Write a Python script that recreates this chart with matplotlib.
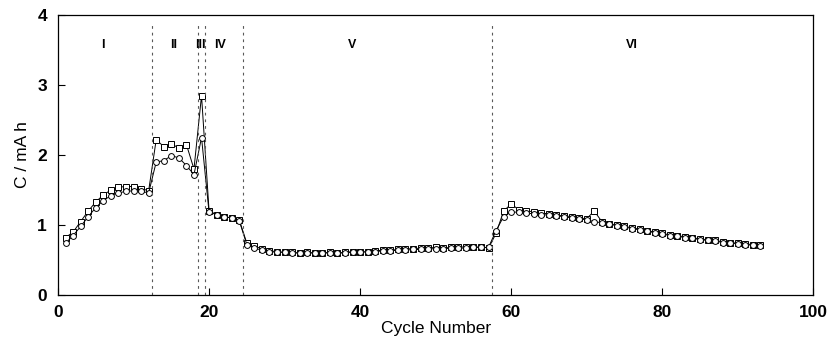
import matplotlib
matplotlib.use("Agg")
import matplotlib.pyplot as plt

plt.rcParams['font.family'] = ['Liberation Sans', 'DejaVu Sans']

cycles = list(range(1, 94))

circles = [0.74, 0.85, 0.98, 1.12, 1.25, 1.35, 1.42, 1.46, 1.48, 1.49, 1.48, 1.46,
           1.90, 1.92, 1.99, 1.96, 1.85, 1.72,
           2.25,
           1.18, 1.15, 1.12, 1.10, 1.06,
           0.72, 0.67, 0.64, 0.62, 0.61, 0.61, 0.60, 0.60, 0.60, 0.60, 0.60, 0.60, 0.60, 0.60,
           0.61, 0.61, 0.62, 0.62, 0.63, 0.63, 0.64, 0.64, 0.65, 0.65, 0.66, 0.66, 0.66, 0.67,
           0.67, 0.67, 0.68, 0.68, 0.68,
           0.92, 1.12, 1.19, 1.18, 1.17, 1.16, 1.15, 1.14, 1.13, 1.12, 1.10, 1.09, 1.07, 1.05,
           1.03, 1.01, 0.99, 0.97, 0.95, 0.93, 0.91, 0.89, 0.87, 0.85, 0.84, 0.82, 0.81, 0.79,
           0.78, 0.77, 0.75, 0.74, 0.73, 0.72, 0.71, 0.70]

squares = [0.82, 0.90, 1.05, 1.20, 1.33, 1.43, 1.50, 1.54, 1.55, 1.55, 1.52, 1.49,
           2.22, 2.12, 2.16, 2.10, 2.15, 1.80,
           2.85,
           1.20, 1.15, 1.12, 1.10, 1.07,
           0.74, 0.70, 0.66, 0.63, 0.62, 0.61, 0.61, 0.60, 0.61, 0.60, 0.60, 0.61, 0.60, 0.61,
           0.62, 0.61, 0.62, 0.63, 0.64, 0.64, 0.65, 0.66, 0.66, 0.67, 0.67, 0.68, 0.67, 0.68,
           0.68, 0.69, 0.68, 0.69, 0.67,
           0.88, 1.20, 1.30, 1.22, 1.20, 1.19, 1.17, 1.16, 1.14, 1.13, 1.12, 1.10, 1.09, 1.20,
           1.05, 1.02, 1.00, 0.98, 0.96, 0.94, 0.92, 0.90, 0.88, 0.86, 0.85, 0.83, 0.82, 0.80,
           0.79, 0.78, 0.76, 0.75, 0.74, 0.73, 0.72, 0.71]

boundaries = [12.5, 18.5, 19.5, 24.5, 57.5]
region_labels = ['I', 'II', 'III', 'IV', 'V', 'VI']
region_label_x = [6, 15.3, 18.9, 21.5, 39, 76]
region_label_y = 3.57

fig = plt.figure(figsize=(8.29, 3.43), dpi=100)
ax = fig.add_axes([0.070, 0.140, 0.911, 0.816])

ax.plot(cycles, squares, color='black', lw=0.7, marker='s', ms=4.2,
        mfc='white', mec='black', mew=0.7)
ax.plot(cycles, circles, color='black', lw=0.7, marker='o', ms=4.2,
        mfc='white', mec='black', mew=0.7)

for b in boundaries:
    ax.axvline(b, color='0.35', lw=0.8, ls=(0, (2.5, 3.5)), ymin=0, ymax=0.97)

for lab, xx in zip(region_labels, region_label_x):
    ax.text(xx, region_label_y, lab, ha='center', va='center', fontsize=9,
            fontweight='bold')

ax.set_xlim(0, 100)
ax.set_ylim(0, 4)
ax.set_xticks([0, 20, 40, 60, 80, 100])
ax.set_yticks([0, 1, 2, 3, 4])
ax.tick_params(direction='in', length=5, width=0.8, labelsize=12.5)
ax.tick_params(axis='x', pad=7)
ax.tick_params(axis='y', pad=8)
for t in ax.get_xticklabels() + ax.get_yticklabels():
    t.set_fontweight('bold')
for sp in ax.spines.values():
    sp.set_linewidth(0.9)

ax.set_xlabel('Cycle Number', fontsize=12.5, labelpad=1)
ax.set_ylabel('C / mA h', fontsize=12.5, labelpad=5)

fig.savefig('out.png', dpi=100)
